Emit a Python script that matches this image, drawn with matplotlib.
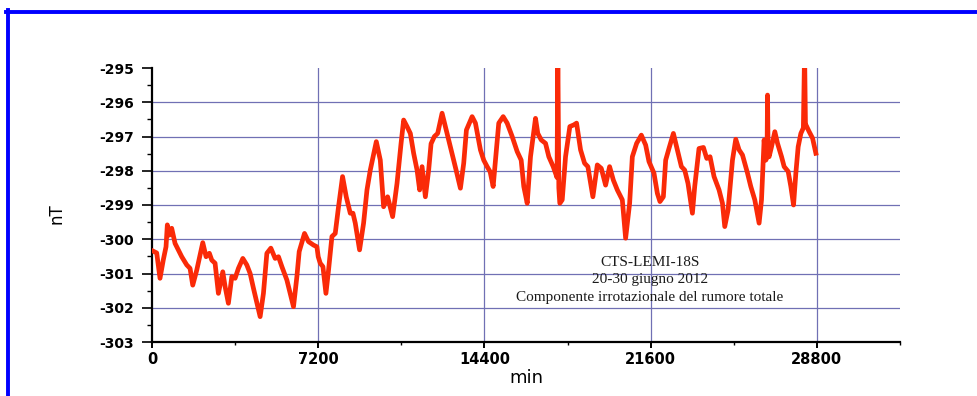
import matplotlib
matplotlib.use("Agg")
import matplotlib.pyplot as plt
from matplotlib.lines import Line2D
import numpy as np

# ---- data (minutes, nT) ----
minutes = [
    0, 204, 347, 490, 607, 664, 750, 854, 998, 1141, 1288, 1505, 1648, 1765, 1939,
    2199, 2342, 2485, 2589, 2732, 2876, 3066, 3166, 3309, 3457, 3600, 3743, 3934,
    4107, 4251, 4394, 4684, 4827, 4975, 5148, 5335, 5478, 5626, 5842, 6129, 6276,
    6376, 6606, 6779, 6996, 7143, 7200, 7287, 7404, 7534, 7647, 7794, 7937, 8080,
    8254, 8414, 8588, 8705, 8805, 8991, 9165, 9312, 9455, 9716, 9889, 10032, 10206,
    10423, 10613, 10787, 10900, 11047, 11190, 11333, 11481, 11594, 11698, 11841,
    11984, 12088, 12231, 12374, 12565, 12708, 12925, 13172, 13359, 13502, 13619,
    13866, 14010, 14226, 14369, 14517, 14647, 14777, 14877, 15020, 15211, 15384,
    15601, 15818, 15991, 16104, 16252, 16395, 16612, 16711, 16859, 17046, 17189,
    17379, 17479, 17545, 17579, 17622, 17665, 17769, 17913, 18099, 18273, 18390,
    18563, 18737, 18880, 19097, 19288, 19461, 19648, 19821, 19982, 20155, 20372,
    20515, 20689, 20806, 20992, 21196, 21383, 21526, 21743, 21890, 22003, 22150,
    22250, 22393, 22584, 22757, 22931, 23074, 23217, 23408, 23508, 23694, 23885,
    24029, 24172, 24345, 24562, 24710, 24809, 24952, 25143, 25286, 25430, 25577,
    25794, 25937, 26110, 26297, 26401, 26514, 26588, 26640, 26662, 26688, 26731,
    26835, 26978, 27095, 27269, 27382, 27555, 27672, 27789, 27889, 27989, 28106,
    28214, 28267, 28306, 28323, 28466, 28613, 28756,
]
noise_nT = [
    -300.33, -300.40, -301.14, -300.60, -300.22, -299.58, -299.88, -299.68, -300.12,
    -300.31, -300.51, -300.75, -300.85, -301.34, -300.90, -300.10, -300.51, -300.41,
    -300.61, -300.70, -301.58, -300.95, -301.38, -301.87, -301.09, -301.14, -300.85,
    -300.56, -300.75, -301.00, -301.43, -302.26, -301.58, -300.41, -300.26, -300.56,
    -300.51, -300.80, -301.19, -301.97, -301.09, -300.36, -299.83, -300.07, -300.17,
    -300.22, -300.51, -300.70, -300.80, -301.58, -300.90, -299.92, -299.83, -299.05,
    -298.17, -298.76, -299.24, -299.24, -299.53, -300.31, -299.53, -298.56, -297.98,
    -297.15, -297.69, -299.05, -298.76, -299.34, -298.37, -297.21, -296.52, -296.71,
    -296.91, -297.49, -297.98, -298.56, -297.88, -298.76, -297.98, -297.21, -297.00,
    -296.91, -296.32, -296.71, -297.30, -297.98, -298.51, -297.78, -296.81, -296.42,
    -296.61, -297.39, -297.69, -297.88, -298.03, -298.46, -297.69, -296.61, -296.42,
    -296.61, -297.00, -297.44, -297.69, -298.46, -298.95, -297.59, -296.47, -296.91,
    -297.10, -297.20, -297.59, -297.88, -298.07, -298.20, -294.50, -298.50, -298.95,
    -298.85, -297.59, -296.71, -296.66, -296.61, -297.39, -297.78, -297.88, -298.76,
    -297.83, -297.93, -298.42, -297.88, -298.27, -298.56, -298.85, -299.97, -298.95,
    -297.59, -297.20, -296.96, -297.25, -297.73, -298.07, -298.66, -298.90, -298.76,
    -297.69, -297.35, -296.91, -297.39, -297.88, -297.98, -298.37, -299.24, -298.46,
    -297.35, -297.32, -297.64, -297.59, -298.17, -298.56, -298.95, -299.63, -299.15,
    -297.69, -297.08, -297.39, -297.54, -298.07, -298.46, -298.85, -299.53, -298.85,
    -297.10, -297.69, -297.60, -295.79, -297.50, -297.59, -297.30, -296.86, -297.20,
    -297.59, -297.88, -298.02, -298.46, -299.00, -298.07, -297.30, -296.91, -296.75,
    -294.50, -296.70, -296.66, -296.86, -297.05, -297.49,
]

x_ticks = [0, 7200, 14400, 21600, 28800]
x_minor = [3600, 10800, 18000, 25200, 32400]
y_ticks = [-303, -302, -301, -300, -299, -298, -297, -296, -295]
x_label = "min"
y_label = "nT"
note_lines = ["CTS-LEMI-18S", "20-30 giugno 2012",
              "Componente irrotazionale del rumore totale"]

W, H = 978, 396
fig = plt.figure(figsize=(W / 100, H / 100), dpi=100)
fig.patch.set_facecolor("white")

L, R, T, B = 152, 900, 68, 342
ax = fig.add_axes([L / W, 1 - B / H, (R - L) / W, (B - T) / H])
ax.set_xlim(0, 32400)
ax.set_ylim(-303, -295)

grid_c = "#7070b4"
for v in y_ticks[1:-1]:
    ax.axhline(v, color=grid_c, lw=0.9, zorder=1)
for v in x_ticks[1:]:
    ax.axvline(v, color=grid_c, lw=0.9, zorder=1)

ax.plot(minutes, noise_nT, color="#fa2a08", lw=3.4, zorder=3,
        solid_joinstyle="round", clip_on=True)

for s in ["top", "right"]:
    ax.spines[s].set_visible(False)
for s in ["left", "bottom"]:
    ax.spines[s].set_linewidth(1.6)
    ax.spines[s].set_color("black")

ax.set_xticks(x_ticks)
ax.set_xticks(x_minor, minor=True)
ax.set_yticks(y_ticks)
ax.set_yticks([v + 0.5 for v in y_ticks[:-1]], minor=True)
ax.set_xticklabels([str(v) for v in x_ticks])
ax.set_yticklabels([str(v) for v in y_ticks])
ax.tick_params(axis="y", which="major", length=7, width=1.2, direction="out", pad=6,
               labelsize=10)
ax.tick_params(axis="y", which="minor", length=3.5, width=1.0, direction="out")
ax.tick_params(axis="x", which="major", length=4, width=1.4, direction="out", pad=3,
               labelsize=10.5)
ax.tick_params(axis="x", which="minor", length=2.5, width=1.0, direction="out")
for lab in ax.get_xticklabels() + ax.get_yticklabels():
    lab.set_fontweight("bold")
    lab.set_family("DejaVu Sans")

ax.set_xlabel(x_label, fontsize=13)
ax.xaxis.set_label_coords(0.5, -0.1)
ax.set_ylabel(y_label, fontsize=12)
ax.yaxis.set_label_coords(-0.115, 0.47)

note_y = [263, 280, 297]
for txt, py in zip(note_lines, note_y):
    ax.text((650 - L) / (R - L), (B - py) / (B - T), txt, transform=ax.transAxes,
            ha="center", va="center", fontsize=11, family="Liberation Serif",
            color="#1a1a1a", zorder=4)

# blue frame (top and left)
fig.add_artist(Line2D([6 / W, 1.0], [1 - 12 / H, 1 - 12 / H], color="#0000ff",
                      lw=2.8, transform=fig.transFigure))
fig.add_artist(Line2D([8 / W, 8 / W], [1 - 10 / H, 0.0], color="#0000ff",
                      lw=2.8, transform=fig.transFigure))

fig.savefig("out.png", dpi=100)
